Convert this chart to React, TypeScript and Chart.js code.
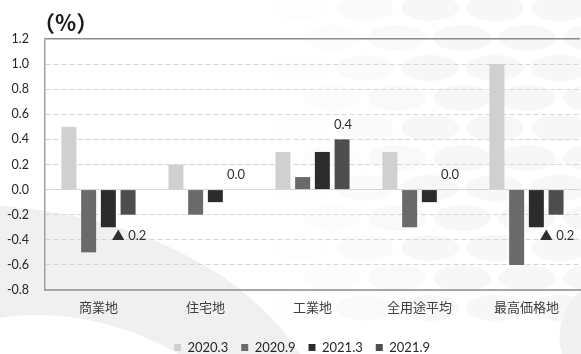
import React, { useEffect, useRef } from "react";
import { Chart, registerables } from "chart.js";

Chart.register(...registerables);

const categories = ["商業地", "住宅地", "工業地", "全用途平均", "最高価格地"];
const seriesNames = ["2020.3", "2020.9", "2021.3", "2021.9"];
const s2020_3 = [0.5, 0.2, 0.3, 0.3, 1.0];
const s2020_9 = [-0.5, -0.2, 0.1, -0.3, -0.6];
const s2021_3 = [-0.3, -0.1, 0.3, -0.1, -0.3];
const s2021_9 = [-0.2, 0.0, 0.4, 0.0, -0.2];
const yMin = -0.8;
const yMax = 1.2;
const yStep = 0.2;
const unitLabel = "（%）";
const seriesColors = ["#d0d0d0", "#6a6a6a", "#2c2c2c", "#4e4e4e"];

const NUM_FONT = "Lato, 'Noto Sans CJK JP', sans-serif";
const JP_FONT = "'Noto Sans CJK JP', sans-serif";

const annotText = (v: number) => (v < 0 ? "▲ " + Math.abs(v).toFixed(1) : v.toFixed(1));

const backgroundPlugin = {
  id: "bgDecor",
  afterLayout(chart: any) {
    const lg = chart.legend;
    if (lg) {
      lg.left += 12;
      lg.right += 12;
    }
  },
  beforeDraw(chart: any) {
    const { ctx, width, height } = chart;
    ctx.save();
    ctx.fillStyle = "#ffffff";
    ctx.fillRect(0, 0, width, height);
    // faint ellipse pattern (upper right)
    for (let r = 0; r < 11; r++) {
      const cy = 8 + r * 30;
      const off = r % 2 === 0 ? 0 : 32;
      for (let c = 0; c < 7; c++) {
        const cx = 300 + off + c * 65;
        const alpha = Math.max(0, Math.min(0.03, (cx - 250) / 6000));
        ctx.fillStyle = `rgba(0,0,0,${alpha})`;
        ctx.beginPath();
        ctx.ellipse(cx, cy, 29, 13, 0, 0, Math.PI * 2);
        ctx.fill();
      }
    }
    // swoosh lower left
    ctx.fillStyle = "#f0f0f0";
    ctx.beginPath();
    ctx.moveTo(0, 206);
    ctx.bezierCurveTo(120, 214, 240, 262, 300, 354);
    ctx.lineTo(178, 354);
    ctx.bezierCurveTo(130, 325, 60, 308, 0, 318);
    ctx.closePath();
    ctx.fill();
    // swoosh lower right
    ctx.fillStyle = "#f1f1f1";
    ctx.beginPath();
    ctx.moveTo(581, 290);
    ctx.bezierCurveTo(560, 310, 556, 335, 562, 354);
    ctx.lineTo(581, 354);
    ctx.closePath();
    ctx.fill();
    ctx.restore();
  },
};

const textPlugin = {
  id: "textDecor",
  afterDatasetsDraw(chart: any) {
    const { ctx } = chart;
    const meta = chart.getDatasetMeta(3);
    ctx.save();
    ctx.fillStyle = "#303030";
    ctx.font = "13px " + NUM_FONT;
    ctx.textAlign = "center";
    ctx.textBaseline = "middle";
    s2021_9.forEach((v, i) => {
      const el = meta.data[i];
      if (!el) return;
      const y = v < 0 ? el.y + 21 : el.y - 15;
      ctx.fillText(annotText(v), el.x + 1, y);
    });
    // unit label
    ctx.font = "bold 22px " + JP_FONT;
    ctx.textAlign = "left";
    ctx.fillStyle = "#1a1a1a";
    ctx.fillText(unitLabel, 33, 23);
    ctx.restore();
  },
};

export default function App() {
  const ref = useRef<HTMLCanvasElement | null>(null);
  useEffect(() => {
    document.body.style.margin = "0";
    const canvas = ref.current;
    if (!canvas) return;
    const data = [s2020_3, s2020_9, s2021_3, s2021_9];
    const chart = new Chart(canvas, {
      type: "bar",
      data: {
        labels: categories,
        datasets: seriesNames.map((name, i) => ({
          label: name,
          data: data[i],
          backgroundColor: seriesColors[i],
          borderWidth: 0,
          barPercentage: 0.76,
          categoryPercentage: 0.737,
        })),
      },
      plugins: [backgroundPlugin, textPlugin],
      options: {
        animation: false,
        responsive: false,
        devicePixelRatio: 1,
        layout: { padding: { top: 39, right: 1, left: 0, bottom: -10 } },
        plugins: {
          legend: {
            position: "bottom",
            labels: {
              boxWidth: 7,
              boxHeight: 7,
              padding: 13,
              color: "#262626",
              font: { size: 13, family: NUM_FONT },
            },
          },
          tooltip: { enabled: false },
        },
        scales: {
          x: {
            afterFit(scale: any) {
              scale.height = 38;
            },
            grid: { display: false, drawTicks: false },
            border: { color: "#a6a6a6", width: 2 },
            ticks: {
              color: "#404040",
              padding: 9,
              font: { size: 13, family: JP_FONT },
            },
          },
          y: {
            min: yMin,
            max: yMax,
            afterFit(scale: any) {
              scale.width = 45;
            },
            ticks: {
              stepSize: yStep,
              padding: 16,
              color: "#262626",
              font: { size: 12.5, family: NUM_FONT },
              callback: (v: any) => Number(v).toFixed(1),
            },
            grid: {
              drawTicks: false,
              color: (ctx: any) => {
                const v = ctx.tick ? Math.round(ctx.tick.value * 10) / 10 : 0;
                if (v === yMax) return "#8c8c8c";
                if (v === yMin) return "rgba(0,0,0,0)";
                return "#d6d6d6";
              },
              lineWidth: (ctx: any) => {
                const v = ctx.tick ? Math.round(ctx.tick.value * 10) / 10 : 0;
                return v === yMax ? 1.5 : 1;
              },
            },
            border: {
              color: "#a0a0a0",
              width: 1.5,
              dash: (ctx: any) => {
                if (!ctx.tick) return [];
                const v = Math.round(ctx.tick.value * 10) / 10;
                if (v === 0 || v === yMax || v === yMin) return [];
                return [5, 3];
              },
            },
          },
        },
      },
    } as any);
    return () => chart.destroy();
  }, []);
  return (
    <div style={{ width: 581, height: 354, position: "relative" }}>
      <canvas ref={ref} width={581} height={354} style={{ display: "block" }} />
    </div>
  );
}
